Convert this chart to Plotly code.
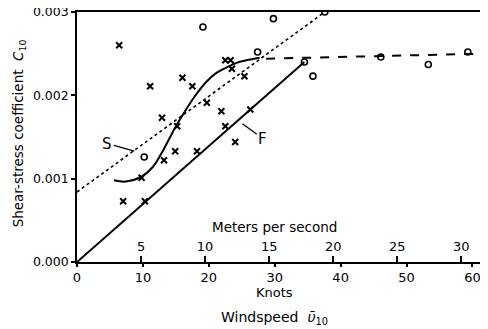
import plotly.graph_objects as go

# --- data ---
cross_knots = [6.4, 11.1, 16.0, 17.5, 22.5, 23.3, 23.5, 25.4, 19.7, 21.9, 26.3, 12.9, 15.2,
               22.5, 24.0, 14.9, 18.2, 13.2, 9.8, 7.0, 10.3]
cross_c = [0.00260, 0.00211, 0.00221, 0.00211, 0.00242, 0.00242, 0.00232, 0.00223, 0.00191,
           0.00181, 0.00183, 0.00173, 0.00163, 0.00163, 0.00144, 0.00133, 0.00133, 0.00122,
           0.00101, 0.00073, 0.00073]

circle_knots = [10.2, 19.1, 27.4, 29.8, 37.6, 34.5, 35.8, 46.1, 53.3, 59.3]
circle_c = [0.00126, 0.00282, 0.00252, 0.00292, 0.00300, 0.00240, 0.00223, 0.00246, 0.00237, 0.00252]

dotted_knots = [0, 37.6]
dotted_c = [0.00084, 0.00300]

f_knots = [0, 34.5]
f_c = [0.0, 0.00240]

dashed_knots = [28.7, 61.6]
dashed_c = [0.00244, 0.00250]

s_knots = [5.6, 7.4, 9.7, 11.5, 13.2, 14.8, 16.0, 17.8, 19.6, 21.0, 22.6, 24.2, 25.7, 27.7]
s_c = [0.00098, 0.000965, 0.00102, 0.00114, 0.00136, 0.00160, 0.00176, 0.00198, 0.00216,
       0.00226, 0.00233, 0.00239, 0.00242, 0.00245]

knot_ticks = [0, 10, 20, 30, 40, 50, 60]
ms_ticks = [5, 10, 15, 20, 25, 30]
y_ticks = [0.000, 0.001, 0.002, 0.003]

KNOTS_PER_MS = 1.9438
X_MAX = 61.6

FONT = "DejaVu Sans"
fig = go.Figure()

fig.add_trace(go.Scatter(x=dotted_knots, y=dotted_c, mode="lines",
                         line=dict(color="black", width=1.6, dash="dot"), showlegend=False))
fig.add_trace(go.Scatter(x=f_knots, y=f_c, mode="lines",
                         line=dict(color="black", width=2), showlegend=False))
fig.add_trace(go.Scatter(x=dashed_knots, y=dashed_c, mode="lines",
                         line=dict(color="black", width=2, dash="dash"), showlegend=False))
fig.add_trace(go.Scatter(x=s_knots, y=s_c, mode="lines", line_shape="spline",
                         line=dict(color="black", width=2), showlegend=False))
fig.add_trace(go.Scatter(x=cross_knots, y=cross_c, mode="markers",
                         marker=dict(symbol="x-thin", size=6, color="black",
                                     line=dict(color="black", width=2)), showlegend=False))
fig.add_trace(go.Scatter(x=circle_knots, y=circle_c, mode="markers",
                         marker=dict(symbol="circle-open", size=6, color="black",
                                     line=dict(color="black", width=1.6)), showlegend=False))
# invisible trace to attach the m/s axis
fig.add_trace(go.Scatter(x=[0, X_MAX / KNOTS_PER_MS], y=[0, 0], xaxis="x2", mode="lines",
                         line=dict(width=0), hoverinfo="skip", showlegend=False))

# page body has an 8px margin: figure is 480x321 so it fits the 488x329 window
fig.update_layout(
    width=480, height=321,
    margin=dict(l=69, r=5, t=4, b=67),
    paper_bgcolor="white", plot_bgcolor="white",
    font=dict(family=FONT, size=13, color="black"),
    xaxis=dict(range=[0, X_MAX], tickvals=knot_ticks, ticks="outside", ticklen=3,
               tickwidth=1.5, tickcolor="black", showgrid=False, zeroline=False,
               showline=True, linecolor="black", linewidth=1.6, mirror=True,
               tickfont=dict(size=13), automargin=False, ticklabeloverflow="allow"),
    xaxis2=dict(range=[0, X_MAX / KNOTS_PER_MS], overlaying="x", side="top", anchor="free",
                position=0, tickvals=ms_ticks, ticks="outside", ticklen=6, tickwidth=1.5,
                tickcolor="black", showgrid=False, zeroline=False, showline=False,
                tickfont=dict(size=13), automargin=False, ticklabeloverflow="allow"),
    yaxis=dict(range=[0, 0.003], tickvals=y_ticks, tickformat=".3f", ticks="outside",
               ticklen=4, tickwidth=1.5, tickcolor="black", showgrid=False, zeroline=False,
               showline=True, linecolor="black", linewidth=1.6, mirror=True,
               tickfont=dict(size=12.5), automargin=False, ticklabeloverflow="allow"),
)

fig.add_annotation(text="Meters per second", xref="x", yref="paper", x=30, y=0.14,
                   showarrow=False, font=dict(size=13.5), yanchor="middle")
fig.add_annotation(text="Knots", xref="x", yref="paper", x=30, y=-0.12,
                   showarrow=False, font=dict(size=13), yanchor="middle")
fig.add_annotation(text="Windspeed  <i>ῡ</i><sub>10</sub>", xref="x", yref="paper", x=30, y=-0.225,
                   showarrow=False, font=dict(size=14), yanchor="middle")
fig.add_annotation(text="Shear-stress coefficient  <i>C</i><sub>10</sub>", xref="paper", yref="paper",
                   x=-0.142, y=0.516, textangle=-90, showarrow=False, font=dict(size=13.5),
                   xanchor="center", yanchor="middle")
# curve labels with pointers
fig.add_annotation(text="S", x=8.7, y=0.00133, ax=4.6, ay=0.00142, axref="x", ayref="y",
                   showarrow=True, arrowhead=0, arrowwidth=1.3, arrowcolor="black",
                   font=dict(size=15))
fig.add_annotation(text="F", x=25.1, y=0.00166, ax=28.2, ay=0.00148, axref="x", ayref="y",
                   showarrow=True, arrowhead=0, arrowwidth=1.3, arrowcolor="black",
                   font=dict(size=15))

fig.write_html("out.html")
